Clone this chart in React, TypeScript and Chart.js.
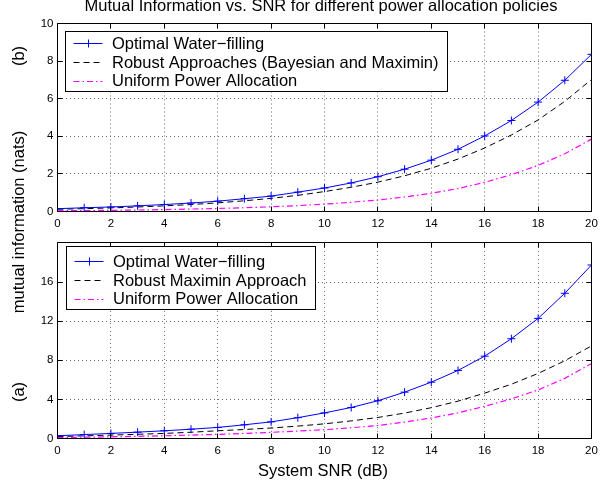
import React, { useEffect, useRef } from "react";
import { Chart, registerables } from "chart.js";

Chart.register(...registerables);

const FONT = '"Liberation Sans", Arial, Helvetica, sans-serif';

// ---------- data ----------
const snrDb = [0, 1, 2, 3, 4, 5, 6, 7, 8, 9, 10, 11, 12, 13, 14, 15, 16, 17, 18, 19, 20];
const xTickValues = [0, 2, 4, 6, 8, 10, 12, 14, 16, 18, 20];

// (b) top panel
const topOptimal = [0.15, 0.2, 0.24, 0.3, 0.37, 0.45, 0.55, 0.68, 0.82, 1.03, 1.25, 1.52, 1.85, 2.25, 2.73, 3.31, 4.02, 4.84, 5.82, 6.98, 8.36];
const topRobust = [0.12, 0.15, 0.19, 0.24, 0.3, 0.37, 0.46, 0.57, 0.7, 0.86, 1.06, 1.29, 1.56, 1.9, 2.3, 2.79, 3.38, 4.07, 4.87, 5.86, 7.02];
const topUniform = [0.04, 0.05, 0.06, 0.08, 0.1, 0.13, 0.16, 0.2, 0.25, 0.31, 0.39, 0.49, 0.61, 0.77, 0.97, 1.22, 1.55, 1.96, 2.45, 3.07, 3.85];
const topYTicks = [0, 2, 4, 6, 8, 10];
const topLabels = ["Optimal Water\u2212filling", "Robust Approaches (Bayesian and Maximin)", "Uniform Power Allocation"];

// (a) bottom panel
const botOptimal = [0.28, 0.4, 0.52, 0.65, 0.79, 0.95, 1.13, 1.4, 1.7, 2.13, 2.62, 3.17, 3.86, 4.74, 5.76, 6.96, 8.42, 10.2, 12.28, 14.85, 17.74];
const botMaximin = [0.2, 0.27, 0.35, 0.43, 0.52, 0.64, 0.79, 0.92, 1.07, 1.27, 1.5, 1.8, 2.15, 2.6, 3.15, 3.82, 4.64, 5.55, 6.65, 7.95, 9.47];
const botUniform = [0.1, 0.13, 0.17, 0.22, 0.28, 0.35, 0.42, 0.52, 0.63, 0.76, 0.9, 1.1, 1.33, 1.68, 2.1, 2.62, 3.29, 4.05, 4.97, 6.15, 7.66];
const botYTicks = [0, 4, 8, 12, 16];
const botLabels = ["Optimal Water\u2212filling", "Robust Maximin Approach", "Uniform Power Allocation"];

const titleText = "Mutual Information vs. SNR for different power allocation policies";
const xTitle = "System SNR (dB)";
const yTitle = "mutual information (nats)";

// ---------- plugins ----------
const align = (p: number) => Math.round(p - 0.5) + 0.5;

const matlabAxes = {
  id: "matlabAxes",
  afterDatasetsDraw(chart: any) {
    const { ctx, chartArea: a, scales } = chart;
    const L = 5;
    ctx.save();
    ctx.strokeStyle = "#000";
    ctx.lineWidth = 1;
    ctx.setLineDash([]);
    const l = align(a.left), r = align(a.right), t = align(a.top), b = align(a.bottom);
    ctx.beginPath();
    ctx.rect(l, t, r - l, b - t);
    scales.x.ticks.forEach((tk: any) => {
      const px = align(scales.x.getPixelForValue(tk.value));
      ctx.moveTo(px, b);
      ctx.lineTo(px, b - L);
      ctx.moveTo(px, t);
      ctx.lineTo(px, t + L);
    });
    scales.y.ticks.forEach((tk: any) => {
      const py = align(scales.y.getPixelForValue(tk.value));
      ctx.moveTo(l, py);
      ctx.lineTo(l + L, py);
      ctx.moveTo(r, py);
      ctx.lineTo(r - L, py);
    });
    ctx.stroke();
    ctx.restore();
  },
};

const boxLegend = {
  id: "boxLegend",
  afterDraw(chart: any, _args: any, opts: any) {
    const { ctx, chartArea: a } = chart;
    const ds = chart.data.datasets;
    ctx.save();
    ctx.font = `${opts.fontSize}px ${FONT}`;
    const maxW = Math.max(...ds.map((d: any) => ctx.measureText(d.label).width));
    const x0 = align(a.left + opts.x);
    const y0 = align(a.top + opts.y);
    const w = Math.round(opts.textOffset + maxW + opts.padRight);
    const h = opts.h;
    ctx.fillStyle = "#fff";
    ctx.fillRect(x0, y0, w, h);
    ctx.strokeStyle = "#000";
    ctx.lineWidth = 1;
    ctx.setLineDash([]);
    ctx.strokeRect(x0, y0, w, h);
    ds.forEach((d: any, i: number) => {
      const y = y0 + opts.rows[i];
      ctx.save();
      ctx.strokeStyle = d.borderColor;
      ctx.lineWidth = d.borderWidth;
      ctx.setLineDash(d.borderDash || []);
      ctx.beginPath();
      ctx.moveTo(x0 + opts.lineStart, Math.round(y) + 0.5);
      ctx.lineTo(x0 + opts.lineEnd, Math.round(y) + 0.5);
      ctx.stroke();
      if (d.pointStyle === "cross" && d.pointRadius > 0) {
        const cx = Math.round(x0 + (opts.lineStart + opts.lineEnd) / 2) + 0.5;
        const cy = Math.round(y) + 0.5;
        const rr = d.pointRadius;
        ctx.setLineDash([]);
        ctx.beginPath();
        ctx.moveTo(cx - rr, cy);
        ctx.lineTo(cx + rr, cy);
        ctx.moveTo(cx, cy - rr);
        ctx.lineTo(cx, cy + rr);
        ctx.stroke();
      }
      ctx.restore();
      ctx.fillStyle = "#000";
      ctx.textBaseline = "middle";
      ctx.textAlign = "left";
      ctx.fillText(d.label, x0 + opts.textOffset, y + 1);
    });
    ctx.restore();
  },
};

// ---------- chart builder ----------
function makeDatasets(labels: string[], a: number[], b: number[], c: number[]) {
  return [
    {
      label: labels[0],
      data: snrDb.map((x, i) => ({ x, y: a[i] })),
      borderColor: "#0000ff",
      backgroundColor: "#0000ff",
      borderWidth: 1,
      pointStyle: "cross",
      pointRadius: 4,
      pointBorderWidth: 1,
      pointBorderColor: "#0000ff",
      tension: 0,
    },
    {
      label: labels[1],
      data: snrDb.map((x, i) => ({ x, y: b[i] })),
      borderColor: "#000000",
      borderWidth: 1,
      borderDash: [6, 4],
      pointRadius: 0,
      tension: 0,
    },
    {
      label: labels[2],
      data: snrDb.map((x, i) => ({ x, y: c[i] })),
      borderColor: "#ff00ff",
      borderWidth: 1.2,
      borderDash: [6, 3, 1.5, 3],
      pointRadius: 0,
      tension: 0,
    },
  ];
}

function makeConfig(
  datasets: any[],
  yMax: number,
  yTicks: number[],
  padTop: number,
  xAxisHeight: number,
  legendOpts: any
): any {
  const tickFont = { family: FONT, size: 11.5 };
  return {
    type: "line",
    data: { datasets },
    plugins: [matlabAxes, boxLegend],
    options: {
      responsive: false,
      animation: false,
      events: [],
      layout: { padding: { left: 0, right: 14.5, top: padTop, bottom: 0 } },
      plugins: {
        legend: { display: false },
        tooltip: { enabled: false },
        title: { display: false },
        boxLegend: legendOpts,
      },
      scales: {
        x: {
          type: "linear",
          min: 0,
          max: 20,
          afterBuildTicks: (s: any) => {
            s.ticks = xTickValues.map((v) => ({ value: v }));
          },
          afterFit: (s: any) => {
            s.height = xAxisHeight;
          },
          ticks: { font: tickFont, color: "#000", padding: 5, maxRotation: 0, autoSkip: false },
          grid: { color: "#6a6a6a", lineWidth: 1, drawTicks: false },
          border: { display: false, dash: [1, 3] },
        },
        y: {
          type: "linear",
          min: 0,
          max: yMax,
          afterBuildTicks: (s: any) => {
            s.ticks = yTicks.map((v) => ({ value: v }));
          },
          afterFit: (s: any) => {
            s.width = 57.5;
          },
          ticks: { font: tickFont, color: "#000", padding: 4 },
          grid: { color: "#6a6a6a", lineWidth: 1, drawTicks: false },
          border: { display: false, dash: [1, 3] },
        },
      },
    },
  };
}

const legendCommon = {
  fontSize: 16.5,
  textOffset: 46.5,
  padRight: 9,
  lineStart: 8,
  lineEnd: 37,
};

export default function App() {
  const topRef = useRef<HTMLCanvasElement>(null);
  const botRef = useRef<HTMLCanvasElement>(null);

  useEffect(() => {
    const top = new Chart(
      topRef.current as HTMLCanvasElement,
      makeConfig(
        makeDatasets(topLabels, topOptimal, topRobust, topUniform),
        10,
        topYTicks,
        23.5,
        20.5,
        { ...legendCommon, x: 8, y: 7.5, h: 60, rows: [11.5, 30.5, 49] }
      )
    );
    const bot = new Chart(
      botRef.current as HTMLCanvasElement,
      makeConfig(
        makeDatasets(botLabels, botOptimal, botMaximin, botUniform),
        20,
        botYTicks,
        8.5,
        49.5,
        { ...legendCommon, x: 9, y: 4, h: 63, rows: [14.5, 33.5, 52] }
      )
    );
    return () => {
      top.destroy();
      bot.destroy();
    };
  }, []);

  const textBase: React.CSSProperties = {
    position: "absolute",
    fontFamily: FONT,
    fontSize: 16.5,
    lineHeight: 1,
    whiteSpace: "nowrap",
    color: "#000",
  };
  const rotated = (cx: number, cy: number): React.CSSProperties => ({
    ...textBase,
    left: cx,
    top: cy,
    transform: "translate(-50%, -50%) rotate(-90deg)",
  });

  return (
    <div
      style={{
        position: "absolute",
        left: 0,
        top: 0,
        width: 606,
        height: 488,
        background: "#fff",
        overflow: "hidden",
      }}
    >
      <canvas
        ref={topRef}
        width={606}
        height={232}
        style={{ position: "absolute", left: 0, top: 0, width: 606, height: 232 }}
      />
      <canvas
        ref={botRef}
        width={606}
        height={256}
        style={{ position: "absolute", left: 0, top: 232, width: 606, height: 256 }}
      />
      <div style={{ ...textBase, left: 0, top: -3, width: 642, textAlign: "center" }}>{titleText}</div>
      <div style={{ ...textBase, left: 0, top: 462, width: 646, textAlign: "center" }}>{xTitle}</div>
      <div style={rotated(18, 222)}>{yTitle}</div>
      <div style={rotated(18, 56)}>(b)</div>
      <div style={rotated(18, 392)}>(a)</div>
    </div>
  );
}
